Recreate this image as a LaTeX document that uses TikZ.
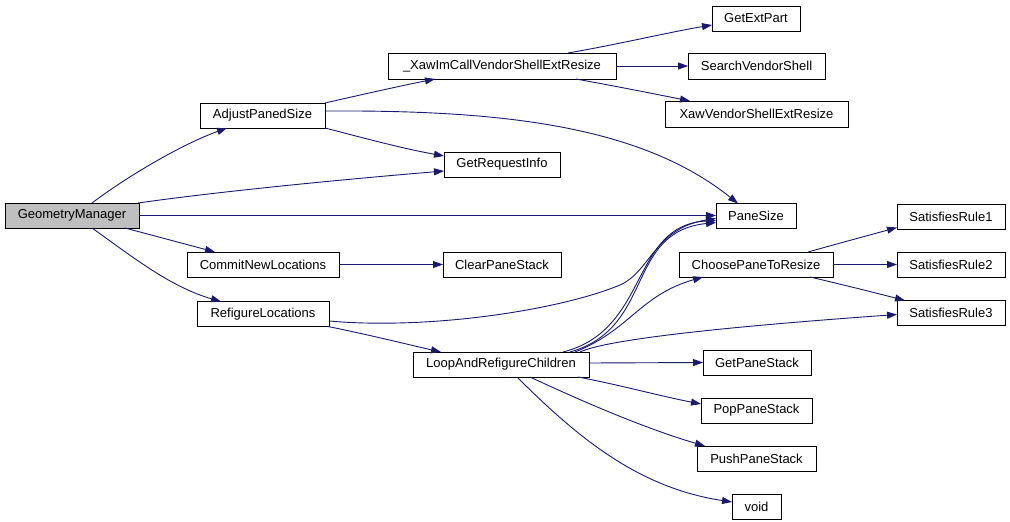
\documentclass[tikz,border=0pt]{standalone}
\usepackage{fontspec}
\setmainfont{Liberation Sans}
\usetikzlibrary{arrows.meta,calc}
\definecolor{edgeblue}{RGB}{25,25,112}
\definecolor{rootgray}{RGB}{191,191,191}
\begin{document}
\begin{tikzpicture}[x=1pt,y=-1pt,
  box/.style={draw=black,line width=1pt,fill=white,rectangle,inner sep=0pt,outer sep=0pt,
    minimum height=25pt,font=\fontsize{13}{15}\selectfont,text=black},
  edge/.style={draw=edgeblue,line width=0.9pt,-{Triangle[length=10pt,width=7pt]}}]
\useasboundingbox[fill=white] (0,0) rectangle (1010,522);
% nodes
\node[box,fill=rootgray,minimum width=134pt] (gm) at (72,215.5) {GeometryManager};
\node[box,minimum width=125pt] (aps) at (262.5,115.5) {AdjustPanedSize};
\node[box,minimum width=152pt] (cnl) at (263,264.5) {CommitNewLocations};
\node[box,minimum width=132pt] (rl) at (263,314) {RefigureLocations};
\node[box,minimum width=228pt,minimum height=26pt] (xaw) at (502,66) {\_XawImCallVendorShellExtResize};
\node[box,minimum width=116pt] (gri) at (502,164.5) {GetRequestInfo};
\node[box,minimum width=118pt] (cps) at (502,264.5) {ClearPaneStack};
\node[box,minimum width=176pt] (larc) at (501,364.5) {LoopAndRefigureChildren};
\node[box,minimum width=88pt] (gep) at (756,18.5) {GetExtPart};
\node[box,minimum width=137pt,minimum height=26pt] (svs) at (756.5,66) {SearchVendorShell};
\node[box,minimum width=183pt,minimum height=26pt] (xvs) at (756.5,114) {XawVendorShellExtResize};
\node[box,minimum width=80pt] (ps) at (756,216) {PaneSize};
\node[box,minimum width=154pt] (cptr) at (756,264.5) {ChoosePaneToResize};
\node[box,minimum width=108pt] (gps) at (757,362.5) {GetPaneStack};
\node[box,minimum width=111pt] (pop) at (756.5,410.5) {PopPaneStack};
\node[box,minimum width=119pt] (push) at (756.5,458.5) {PushPaneStack};
\node[box,minimum width=49pt] (void) at (756.5,506.5) {void};
\node[box,minimum width=108pt] (sr1) at (951,217) {SatisfiesRule1};
\node[box,minimum width=108pt] (sr2) at (951,264.5) {SatisfiesRule2};
\node[box,minimum width=108pt] (sr3) at (951,313) {SatisfiesRule3};
% edges from GeometryManager
\draw[edge] ($(gm.north west)+(87,0)$) .. controls (125,178) and (180,145) .. ($(aps.north west)+(27,25)$);
\draw[edge] ($(gm.north west)+(133,0)$) .. controls (230,190) and (360,178) .. ($(gri.north west)+(0,19)$);
\draw[edge] (gm.east) -- (gm.east -| ps.west);
\draw[edge] ($(gm.north west)+(120,25)$) -- ($(cnl.north west)+(28,0)$);
\draw[edge] ($(gm.north west)+(87,25)$) .. controls (130,255) and (170,287) .. ($(rl.north west)+(24,0)$);
% AdjustPanedSize
\draw[edge] (aps.north east) .. controls (360,95) and (400,86) .. ($(xaw.north west)+(47,26)$);
\draw[edge] (aps.south east) .. controls (360,137) and (400,148) .. ($(gri.north west)+(0,4)$);
\draw[edge] ($(aps.north west)+(125,8)$) .. controls (500,110) and (640,125) .. ($(ps.north west)+(22,0)$);
% _XawImCallVendorShellExtResize
\draw[edge] ($(xaw.north west)+(180,0)$) .. controls (620,44) and (670,32) .. ($(gep.north west)+(0,19)$);
\draw[edge] (xaw.east) -- (svs.west);
\draw[edge] ($(xaw.north west)+(188,26)$) .. controls (620,87) and (660,95) .. ($(xvs.north west)+(25,0)$);
% CommitNewLocations
\draw[edge] (cnl.east) -- (cps.west);
% RefigureLocations
\draw[edge] ($(rl.north west)+(132,19.5)$) .. controls (430,330) and (560,310) .. (620,285) .. controls (650,272) and (655,228) .. ($(ps.north west)+(0,15)$);
\draw[edge] ($(rl.north west)+(131,25)$) .. controls (370,335) and (410,345) .. ($(larc.north west)+(28,0)$);
% LoopAndRefigureChildren
\draw[edge] ($(larc.north west)+(150,0)$) .. controls (650,330) and (630,225) .. ($(ps.north west)+(0,17)$);
\draw[edge] ($(larc.north west)+(157,0)$) .. controls (655,328) and (625,232) .. ($(ps.north west)+(0,19)$);
\draw[edge] ($(larc.north west)+(162,0)$) .. controls (630,330) and (640,295) .. ($(cptr.north west)+(24,25)$);
\draw[edge] ($(larc.north west)+(167,0)$) .. controls (610,338) and (750,325) .. ($(sr3.north west)+(0,14)$);
\draw[edge] ($(larc.north east)+(0,11)$) -- (gps.west);
\draw[edge] ($(larc.north west)+(165,25)$) .. controls (620,385) and (660,396) .. ($(pop.north west)+(0,6)$);
\draw[edge] ($(larc.north west)+(117,25)$) .. controls (590,405) and (650,430) .. ($(push.north west)+(8,0)$);
\draw[edge] ($(larc.north west)+(104,25)$) .. controls (580,440) and (640,488) .. ($(void.north west)+(0,8)$);
% ChoosePaneToResize
\draw[edge] ($(cptr.north west)+(129,0)$) .. controls (840,243) and (870,235) .. ($(sr1.north west)+(0,23)$);
\draw[edge] (cptr.east) -- (sr2.west);
\draw[edge] ($(cptr.north west)+(131,25)$) .. controls (840,284) and (880,294) .. ($(sr3.north west)+(8,0)$);
\end{tikzpicture}
\end{document}
